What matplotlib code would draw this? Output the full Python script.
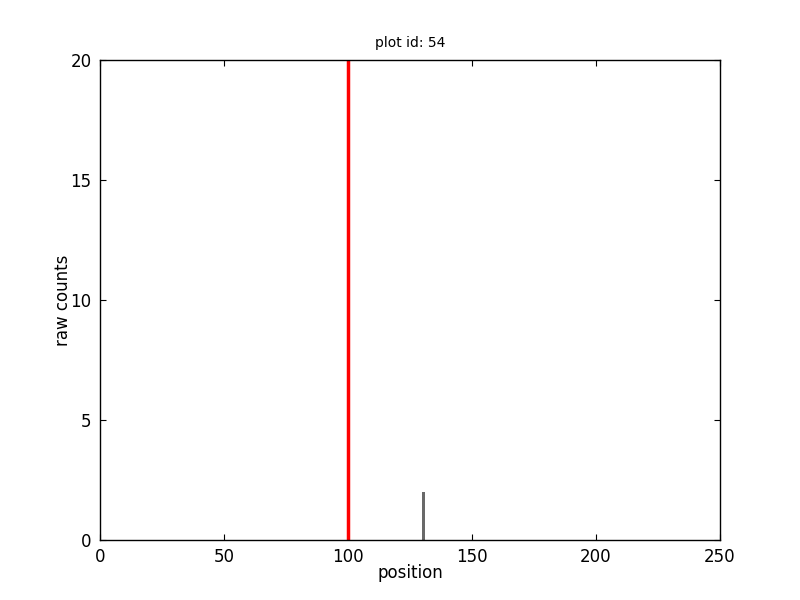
import matplotlib
matplotlib.use("Agg")
import matplotlib.pyplot as plt

positions = [130]
counts = [2]
highlight_position = 100
x_limits = (0, 250)
y_limits = (0, 20)
x_ticks = [0, 50, 100, 150, 200, 250]
y_ticks = [0, 5, 10, 15, 20]

fig = plt.figure(figsize=(8, 6), dpi=100, facecolor="white")
ax = fig.add_axes([0.125, 0.1, 0.775, 0.8])
ax.bar(positions, counts, width=1, align="edge", color="dimgray", linewidth=0)
ax.axvline(highlight_position, color="red", linewidth=2.5)
ax.set_xlim(*x_limits)
ax.set_ylim(*y_limits)
ax.set_xticks(x_ticks)
ax.set_yticks(y_ticks)
ax.tick_params(direction="in", top=True, right=True, labelsize=12, length=4, pad=6)
for s in ax.spines.values():
    s.set_linewidth(1.0)
ax.set_xlabel("position", fontsize=12, labelpad=-2)
ax.set_ylabel("raw counts", fontsize=12, labelpad=-1)
ax.set_title("plot id: 54", fontsize=10, pad=9)
fig.savefig("out.png", dpi=100, facecolor="white")
